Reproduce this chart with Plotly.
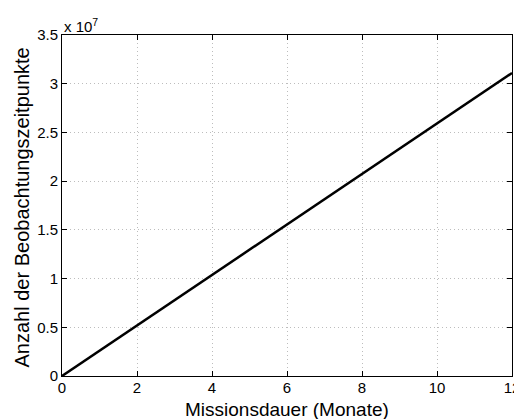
import plotly.graph_objects as go

months = [0, 12]
counts = [0, 31104000]

x_ticks = [0, 2, 4, 6, 8, 10, 12]
y_ticks = [0, 0.5e7, 1e7, 1.5e7, 2e7, 2.5e7, 3e7, 3.5e7]
y_tick_labels = ["0", "0.5", "1", "1.5", "2", "2.5", "3", "3.5"]

FONT = "Liberation Sans, Arial, Helvetica"

fig = go.Figure()
fig.add_trace(go.Scatter(x=months, y=counts, mode="lines",
                         line=dict(color="black", width=2.5), showlegend=False))

axis_common = dict(showline=True, linecolor="black", linewidth=1, mirror="ticks",
                   ticks="inside", ticklen=5, tickcolor="black", automargin=False,
                   showgrid=True, gridcolor="#bdbdbd", griddash="1px,3px", gridwidth=1,
                   zeroline=False, tickfont=dict(family=FONT, size=15, color="black"))

fig.update_xaxes(range=[0, 12], tickvals=x_ticks, ticklabelstandoff=-2, **axis_common)
fig.update_yaxes(range=[0, 3.5e7], tickvals=y_ticks, ticktext=y_tick_labels, **axis_common)

fig.add_annotation(text="Missionsdauer (Monate)", xref="paper", yref="paper", x=0.5, y=0,
                   xanchor="center", yanchor="middle", showarrow=False, yshift=-33,
                   font=dict(family=FONT, size=19, color="black"))
fig.add_annotation(text="Anzahl der Beobachtungszeitpunkte", xref="paper", yref="paper",
                   x=0, y=0.5, xanchor="center", yanchor="middle", showarrow=False,
                   xshift=-41, yshift=-2, textangle=-90,
                   font=dict(family=FONT, size=20, color="black"))
fig.add_annotation(text="x 10<sup>7</sup>", xref="paper", yref="paper", x=0, y=1,
                   xanchor="left", yanchor="bottom", showarrow=False, yshift=-2,
                   font=dict(family=FONT, size=15, color="black"))

# page body has an 8px default margin, so the figure is sized/offset to compensate
fig.update_layout(width=514, height=411, margin=dict(l=54, r=10, t=27, b=43),
                  plot_bgcolor="white", paper_bgcolor="white")

fig.write_html("out.html")
